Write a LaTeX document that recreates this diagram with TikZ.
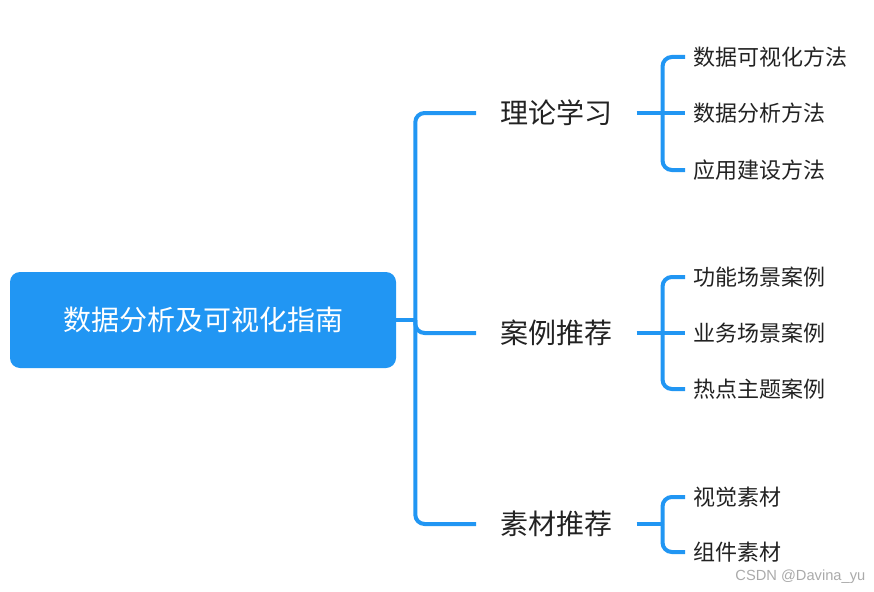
\documentclass[tikz,border=0pt]{standalone}
\usepackage{fontspec}
\setmainfont{Noto Sans CJK SC}
\newfontfamily\cjk{Noto Sans CJK SC}
\newfontfamily\markfont{Liberation Sans}
\usetikzlibrary{positioning}
\definecolor{mapblue}{RGB}{33,150,243}
\definecolor{mapgray}{RGB}{34,34,34}
\definecolor{markgray}{RGB}{170,170,170}

\begin{document}
\begin{tikzpicture}[
    x=0.75pt, y=-0.75pt,
    root/.style={
        fill=mapblue,
        text=white,
        rounded corners=7.5pt,
        minimum width=289.5pt,
        minimum height=72pt,
        font=\cjk\fontsize{21}{21}\selectfont
    },
    topic/.style={
        anchor=west,
        inner xsep=18pt,
        inner ysep=0pt,
        text=mapgray,
        font=\cjk\fontsize{21}{21}\selectfont
    },
    subtopic/.style={
        anchor=west,
        inner xsep=6pt,
        inner ysep=0pt,
        text=mapgray,
        font=\cjk\fontsize{16.5}{16.5}\selectfont
    },
    branch/.style={
        draw=mapblue,
        line width=3pt,
        rounded corners=7pt
    }
]
\useasboundingbox (0,0) rectangle (874,592);
% Central topic
\node[root] at (203,320) (root) {数据分析及可视化指南};
% Main topics
\node[topic] at (476,113) (theory) {理论学习};
\node[topic] at (476,333) (cases) {案例推荐};
\node[topic] at (476,524) (assets) {素材推荐};
% Sub topics of 理论学习
\node[subtopic] at (685,57) (t1) {数据可视化方法};
\node[subtopic] at (685,113) (t2) {数据分析方法};
\node[subtopic] at (685,170) (t3) {应用建设方法};
% Sub topics of 案例推荐
\node[subtopic] at (685,277) (c1) {功能场景案例};
\node[subtopic] at (685,333) (c2) {业务场景案例};
\node[subtopic] at (685,389) (c3) {热点主题案例};
% Sub topics of 素材推荐
\node[subtopic] at (685,497) (a1) {视觉素材};
\node[subtopic] at (685,552) (a2) {组件素材};

% Trunk from central topic
\draw[branch] (root.east) -- ++(19,0) coordinate (hub);
\draw[branch] (hub) |- (theory.west);
\draw[branch] (hub) |- (cases.west);
\draw[branch] (hub) |- (assets.west);
% Brackets to sub topics
\draw[branch] (theory.east) -- ++(26,0) coordinate (hubT);
\draw[branch] (hubT) |- (t1.west);
\draw[branch] (hubT) -- (t2.west);
\draw[branch] (hubT) |- (t3.west);
\draw[branch] (cases.east) -- ++(26,0) coordinate (hubC);
\draw[branch] (hubC) |- (c1.west);
\draw[branch] (hubC) -- (c2.west);
\draw[branch] (hubC) |- (c3.west);
\draw[branch] (assets.east) -- ++(26,0) coordinate (hubA);
\draw[branch] (hubA) |- (a1.west);
\draw[branch] (hubA) |- (a2.west);

% Watermark
\node[anchor=east, text=markgray, font=\markfont\fontsize{11}{11}\selectfont] at (870,577) (mark) {CSDN @Davina\_yu};
\end{tikzpicture}
\end{document}
